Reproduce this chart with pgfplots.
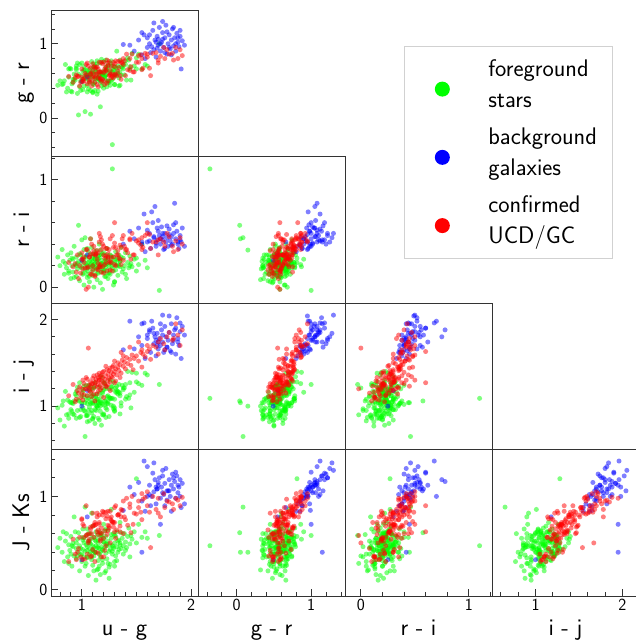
\documentclass[border=0pt]{standalone}
\usepackage{pgfplots}
\usepackage{pgfplotstable}
\pgfplotsset{compat=1.18}
\renewcommand{\familydefault}{\sfdefault}
\definecolor{cgreen}{RGB}{0,255,0}
\definecolor{cblue}{RGB}{0,0,255}
\definecolor{cred}{RGB}{255,0,0}

\pgfplotstableread{
ug gr ri ij jk
0.78 0.44 0.28 0.98 0.45
0.80 0.50 0.20 0.84 0.55
0.82 0.45 0.35 1.01 0.40
0.84 0.50 0.12 0.77 0.30
0.85 0.72 0.22 1.17 0.52
0.86 0.35 0.18 0.90 0.60
0.87 0.40 0.30 1.07 0.35
0.88 0.55 0.15 0.86 0.48
0.89 0.67 0.25 1.05 0.42
0.90 0.36 0.08 1.04 0.38
0.90 0.66 0.32 0.96 0.57
0.91 0.46 0.20 1.04 0.25
0.92 0.52 0.26 0.91 0.46
0.92 0.48 0.14 1.03 0.50
0.93 0.52 0.38 1.06 0.36
0.94 0.51 0.21 1.14 0.62
0.95 0.65 0.10 0.86 0.44
0.95 0.67 0.28 1.12 0.33
0.96 0.33 0.17 0.95 0.54
0.97 0.04 0.575 1.06 0.61
0.97 0.59 0.24 1.07 0.40
0.98 0.42 0.06 0.87 0.20
0.98 0.72 0.31 1.27 0.47
0.99 0.37 0.19 0.88 0.37
1.00 0.49 0.23 1.12 0.30
1.00 0.74 0.44 1.04 0.56
1.01 0.38 0.12 0.98 0.43
1.01 0.63 0.27 1.19 0.65
1.02 0.64 0.02 0.95 0.35
1.02 0.69 0.35 1.23 0.50
1.03 0.085 0.46 0.65 0.885
1.03 0.53 0.16 1.04 0.41
1.04 0.58 0.22 1.07 0.28
1.04 0.55 0.29 1.24 0.58
1.05 0.60 0.09 0.89 0.46
1.05 0.35 0.20 0.90 0.34
1.06 0.52 0.33 1.23 0.52
1.06 0.61 0.18 0.95 0.15
1.07 0.58 0.25 1.19 0.44
1.07 0.49 0.05 0.83 0.38
1.08 0.05 0.45 1.04 0.40
1.08 0.58 0.21 1.03 0.60
1.08 0.37 0.30 1.08 0.49
1.09 0.62 0.14 0.95 0.32
1.09 0.76 0.37 1.20 0.55
1.10 0.34 0.24 1.04 0.42
1.10 0.67 0.11 1.03 0.26
1.10 0.60 0.28 1.12 0.68
1.11 0.45 0.19 0.88 0.45
1.11 0.68 0.00 1.21 0.36
1.12 0.37 0.26 0.96 0.53
1.12 0.70 0.22 1.27 0.40
1.13 0.66 0.16 0.95 0.10
1.13 0.56 0.34 1.11 0.47
1.14 0.32 0.07 1.00 0.21
1.14 0.77 0.23 1.08 0.58
1.15 0.54 0.29 1.05 0.31
1.15 0.54 0.13 0.98 0.22
1.16 0.58 0.20 1.15 0.44
1.16 0.52 0.40 1.02 0.62
1.17 0.15 0.345 1.00 0.40
1.17 0.74 0.18 1.04 0.35
1.18 0.43 0.25 1.04 0.55
1.18 0.79 0.30 1.34 0.46
1.19 0.58 -0.02 0.90 0.28
1.19 0.57 0.21 1.15 0.42
1.20 0.45 0.15 0.91 0.70
1.20 0.76 0.32 1.28 0.51
1.21 0.52 0.24 1.01 0.18
1.21 0.55 0.10 1.26 0.45
1.22 0.65 0.27 0.98 0.20
1.22 0.68 0.19 1.23 0.57
1.23 0.42 0.22 1.11 0.49
1.23 0.69 0.36 1.03 0.33
1.24 0.48 0.08 1.12 0.52
1.24 0.71 0.26 1.03 0.64
1.25 0.64 0.17 1.20 0.41
1.26 0.61 0.30 1.09 0.48
1.26 0.44 0.12 1.09 0.27
1.27 0.77 0.23 1.09 0.55
1.28 -0.36 1.10 1.09 0.47
1.28 0.52 0.20 1.23 0.38
1.29 0.64 0.28 1.00 0.60
1.29 0.70 0.15 1.28 0.44
1.30 0.56 0.25 0.98 0.50
1.30 0.58 0.05 1.08 0.25
1.31 0.58 0.33 1.16 0.57
1.32 0.61 0.21 1.23 0.46
1.32 0.90 0.26 1.16 0.62
1.33 0.60 0.11 1.17 0.40
1.34 0.43 0.30 1.16 0.53
1.35 0.78 0.19 1.12 0.48
1.35 0.62 0.24 1.15 0.72
1.36 0.58 0.37 1.04 0.44
1.37 0.68 0.14 1.24 0.55
1.38 0.71 0.27 1.19 0.38
1.39 0.58 0.20 1.21 0.60
1.40 0.77 0.32 1.08 0.51
1.41 0.51 0.08 1.11 0.45
1.42 0.81 0.23 1.40 0.57
1.43 0.78 0.18 1.09 0.66
1.44 0.69 0.29 1.27 0.49
1.45 0.51 0.22 0.98 0.58
1.46 0.87 0.19 1.39 0.54
1.48 0.70 0.26 1.16 0.62
1.50 0.66 0.15 1.38 0.50
1.52 0.86 0.21 1.26 0.70
1.55 0.66 0.40 1.24 0.56
1.58 0.72 0.25 1.38 0.62
1.50 0.81 0.27 1.28 1.19
1.60 0.70 0.18 1.36 0.55
1.71 1.00 -0.03 1.25 0.58
0.95 0.70 0.20 1.17 0.50
1.00 0.57 0.18 1.03 0.38
1.02 0.43 0.25 1.11 0.55
1.04 0.57 0.28 0.89 0.48
1.05 0.64 0.15 1.12 0.42
1.06 0.39 0.23 1.09 0.60
1.07 0.65 0.19 0.99 0.52
1.09 0.56 0.26 1.14 0.35
1.10 0.46 0.17 0.86 0.47
1.11 0.73 0.21 1.22 0.56
1.12 0.48 0.29 1.05 0.40
1.13 0.53 0.12 1.13 0.62
1.14 0.73 0.24 1.00 0.45
1.15 0.53 0.19 1.08 0.53
1.16 0.51 0.27 1.22 0.38
1.17 0.58 0.14 0.94 0.16
1.18 0.61 0.22 1.11 0.58
1.19 0.59 0.31 1.02 0.43
1.20 0.63 0.20 1.19 0.51
1.21 0.56 0.16 1.06 0.63
1.22 0.58 0.25 1.20 0.39
1.23 0.64 0.30 0.96 0.47
1.25 0.50 0.13 1.10 0.24
1.26 0.74 0.22 1.30 0.43
1.27 0.70 0.27 1.01 0.86
1.28 0.62 0.18 1.19 0.41
1.30 0.45 0.23 0.94 0.58
1.31 0.68 0.16 1.21 0.36
1.33 0.70 0.26 1.14 0.52
1.34 0.54 0.20 1.25 0.43
1.36 0.69 0.28 1.00 0.61
1.38 0.66 0.17 1.21 0.47
0.83 0.46 0.24 1.06 0.62
0.88 0.66 0.13 0.91 0.28
0.91 0.35 0.27 0.94 0.47
0.93 0.59 0.09 0.90 0.78
0.96 0.74 0.22 1.22 0.36
0.99 0.50 0.30 0.96 0.44
1.01 0.52 0.13 1.17 0.53
1.03 0.65 0.20 0.94 0.25
1.05 0.57 0.36 1.03 0.65
1.07 0.55 0.10 1.24 0.50
1.09 0.60 0.22 0.92 0.82
1.11 0.53 0.31 1.10 0.20
1.13 0.62 0.18 1.01 0.52
1.15 0.53 0.26 1.04 0.45
1.17 0.48 0.04 1.06 0.59
1.19 0.59 0.17 1.17 0.32
1.22 0.78 0.21 1.06 0.49
1.24 0.50 0.13 1.05 0.28
1.27 0.50 0.29 1.22 0.59
1.29 0.65 0.02 0.97 0.46
1.32 0.67 0.20 1.18 0.31
1.35 0.44 0.24 0.91 0.50
1.40 0.72 0.12 1.25 0.42
1.44 0.66 0.20 1.13 0.35
1.10 0.35 0.20 0.85 0.42
1.20 0.40 0.14 0.90 0.55
1.12 0.62 0.26 0.80 0.40
1.18 0.50 0.22 0.78 0.60
1.05 0.44 0.12 0.82 0.35
1.25 0.48 0.21 0.88 0.12
1.30 0.45 0.05 0.95 0.30
1.15 0.36 0.18 0.86 0.50
1.22 0.58 0.10 0.87 0.65
1.16 0.62 0.30 0.84 0.25
}\stars

\pgfplotstableread{
ug gr ri ij jk
1.44 0.98 0.52 1.98 1.10
1.48 0.90 0.45 1.66 1.02
1.52 1.05 0.55 1.80 1.15
1.55 0.85 0.40 1.70 0.95
1.57 1.12 0.68 1.96 1.38
1.60 0.95 0.42 1.78 1.00
1.62 1.00 0.50 1.86 1.12
1.63 0.88 0.36 1.62 0.90
1.65 1.18 0.60 1.90 1.25
1.66 0.92 0.47 1.72 1.05
1.67 1.05 0.75 1.80 1.18
1.68 0.82 0.38 1.58 0.92
1.69 1.10 0.44 1.84 1.08
1.70 0.98 0.52 1.66 1.15
1.71 1.22 0.48 1.78 1.20
1.72 0.90 0.40 1.70 0.98
1.73 1.02 0.56 1.88 1.10
1.74 1.15 0.44 1.74 1.22
1.75 0.95 0.35 1.62 1.02
1.76 1.08 0.50 1.92 1.14
1.77 1.25 0.42 1.80 1.30
1.78 0.86 0.46 1.68 0.96
1.79 1.00 0.38 1.76 1.06
1.80 1.12 0.54 1.85 1.18
1.81 0.93 0.43 1.64 1.00
1.82 1.05 0.47 1.95 1.12
1.83 1.20 0.40 1.72 1.24
1.84 0.97 0.58 1.82 1.08
1.85 1.08 0.78 1.88 1.16
1.86 0.90 0.45 1.60 0.98
1.87 1.14 0.52 2.02 1.22
1.88 1.02 0.40 1.78 1.04
1.89 0.96 0.36 1.70 1.10
1.90 1.10 0.48 1.86 1.00
1.91 0.66 0.42 1.55 0.88
1.92 1.04 0.55 1.92 1.14
1.94 0.98 0.38 1.82 0.92
1.66 1.28 0.46 1.84 1.36
1.74 1.30 0.50 2.05 1.28
1.58 0.80 0.33 1.55 0.84
1.70 1.06 0.62 1.74 1.12
1.78 1.16 0.57 1.68 1.06
1.62 1.12 0.43 1.88 1.02
1.84 1.22 0.50 1.76 1.20
1.55 1.15 0.42 1.95 0.40
1.00 0.49 0.25 1.00 0.32
1.05 0.55 0.30 1.18 0.78
1.38 0.99 0.40 1.65 0.85
1.64 0.96 0.70 1.98 1.00
1.72 1.00 0.45 1.95 0.70
1.80 0.95 0.49 2.04 1.06
1.76 0.88 0.36 1.65 0.90
1.68 1.02 0.41 1.76 1.10
1.86 1.00 0.60 1.90 1.26
1.60 1.08 0.53 1.82 1.32
1.90 1.18 0.44 1.96 1.18
1.82 0.85 0.39 1.62 0.84
1.74 1.06 0.47 1.82 1.04
1.69 0.94 0.55 1.70 1.08
1.88 1.08 0.42 1.74 1.12
}\gals

\pgfplotstableread{
ug gr ri ij jk
0.88 0.56 0.23 1.12 0.30
0.92 0.48 0.19 1.25 0.54
0.95 0.58 0.14 1.08 0.32
0.96 0.56 0.30 1.18 0.40
0.98 0.43 0.20 1.22 0.56
0.99 0.48 0.13 1.10 0.35
1.00 0.66 0.26 1.15 0.76
1.01 0.52 0.26 1.30 0.70
1.02 0.50 0.23 1.13 0.56
1.03 0.60 0.18 1.20 0.33
1.04 0.72 0.35 1.33 0.90
1.05 0.46 0.18 1.12 0.38
1.06 0.70 0.19 1.24 0.52
1.06 0.55 0.00 1.67 0.50
1.07 0.48 0.28 1.21 0.60
1.08 0.67 0.31 1.28 0.67
1.08 0.59 0.12 1.16 0.35
1.09 0.49 0.40 1.26 0.60
1.10 0.55 0.16 1.19 0.68
1.10 0.73 0.31 1.32 0.43
1.11 0.56 0.34 1.14 0.56
1.12 0.54 0.11 1.23 0.72
1.12 0.67 0.30 1.27 0.69
1.13 0.59 0.30 1.31 0.40
1.14 0.45 0.34 1.22 0.82
1.14 0.69 0.26 1.36 0.62
1.15 0.66 0.22 1.25 0.39
1.15 0.42 0.16 1.17 0.64
1.16 0.62 0.42 1.30 0.72
1.16 0.75 0.19 1.38 0.80
1.17 0.62 0.21 1.24 0.52
1.17 0.53 0.47 1.34 0.61
1.18 0.75 0.14 1.29 0.66
1.18 0.49 0.35 1.21 0.35
1.19 0.52 0.19 1.33 0.84
1.20 0.61 0.38 1.27 0.55
1.20 0.75 0.30 1.40 0.83
1.21 0.45 0.21 1.26 0.42
1.22 0.63 0.29 1.35 0.76
1.22 0.64 0.23 1.23 0.47
1.23 0.78 0.36 1.42 0.79
1.24 0.50 0.31 1.30 0.69
1.24 0.74 0.27 1.37 0.63
1.25 0.57 0.23 1.32 0.68
1.26 0.59 0.45 1.44 0.84
1.26 0.58 0.16 1.28 0.50
1.27 0.70 0.28 1.39 0.78
1.28 0.56 0.48 1.45 0.73
1.28 0.59 0.15 1.33 0.72
1.29 0.75 0.37 1.47 0.67
1.30 0.69 0.21 1.40 0.72
1.30 0.58 0.60 1.27 0.62
1.31 0.77 0.37 1.43 0.90
1.32 0.57 0.30 1.36 0.64
1.33 0.63 0.30 1.50 0.80
1.34 0.68 0.27 1.41 0.81
1.35 0.77 0.39 1.48 0.68
1.36 0.52 0.21 1.38 0.78
1.37 0.74 0.45 1.53 0.85
1.38 0.72 0.25 1.46 0.60
1.39 0.77 0.38 1.51 0.78
1.40 0.57 0.35 1.43 0.75
1.41 0.86 0.35 1.56 0.98
1.42 0.65 0.32 1.49 0.69
1.44 0.64 0.44 1.54 0.88
1.45 0.69 0.26 1.47 0.61
1.46 0.86 0.50 1.59 1.00
1.48 0.62 0.30 1.55 0.82
1.50 0.75 0.43 1.58 0.81
1.52 0.75 0.41 1.52 0.88
1.54 0.85 0.39 1.62 0.83
1.56 0.67 0.37 1.60 0.97
1.58 0.87 0.48 1.57 0.99
1.60 0.82 0.60 1.63 0.90
1.62 0.67 0.49 1.66 0.83
1.65 0.87 0.42 1.70 1.00
1.68 0.88 0.42 1.68 0.86
1.70 0.78 0.44 1.74 0.98
1.72 0.83 0.45 1.78 0.78
1.75 0.95 0.42 1.72 1.03
1.78 0.92 0.50 1.80 0.95
1.80 0.86 0.47 1.85 0.94
1.83 0.87 0.38 1.76 0.92
1.86 0.95 0.43 1.95 0.98
1.88 0.80 0.35 1.82 0.96
1.90 0.92 0.46 1.70 0.90
1.92 0.84 0.40 1.88 0.99
1.55 0.65 0.35 1.45 0.75
1.47 0.62 0.30 1.42 0.70
1.35 0.57 0.26 1.33 0.62
1.02 0.53 0.28 1.26 0.68
1.05 0.74 0.35 1.31 0.59
1.07 0.51 0.28 1.18 0.54
1.09 0.43 0.12 1.11 0.36
1.11 0.69 0.38 1.35 0.69
1.13 0.68 0.31 1.28 0.70
1.15 0.54 0.32 1.33 0.59
1.17 0.52 0.19 1.19 0.54
1.19 0.73 0.40 1.39 0.80
1.21 0.66 0.27 1.31 0.63
1.23 0.47 0.15 1.22 0.59
1.25 0.76 0.35 1.41 0.66
1.27 0.54 0.23 1.34 0.74
1.29 0.54 0.28 1.37 0.72
1.31 0.59 0.20 1.29 0.55
1.33 0.76 0.34 1.45 0.80
1.04 0.58 -0.02 1.20 0.58
0.97 0.56 0.08 1.15 0.44
1.12 0.48 0.10 1.06 0.30
1.20 0.50 0.13 1.10 0.35
1.08 0.60 0.45 1.23 0.65
1.16 0.56 0.50 1.30 0.70
1.00 0.55 0.32 1.20 0.75
1.10 0.62 0.20 1.26 0.82
1.24 0.70 0.28 1.25 0.84
1.14 0.60 0.17 1.14 0.78
1.26 0.64 0.24 1.18 0.76
0.94 0.54 0.22 1.05 0.38
1.01 0.49 0.17 1.07 0.32
1.18 0.62 0.44 1.36 0.60
1.36 0.75 0.37 1.62 0.86
1.44 0.80 0.45 1.68 0.92
1.52 0.84 0.44 1.74 0.95
1.63 0.57 0.36 1.54 0.45
1.70 0.74 0.30 1.60 0.82
1.76 0.80 0.38 1.65 0.88
1.84 0.78 0.33 1.78 0.86
1.38 0.80 0.48 1.58 0.95
1.30 0.73 0.41 1.52 0.88
1.22 0.69 0.36 1.46 0.83
1.55 0.80 0.46 1.65 1.03
1.60 0.86 0.50 1.70 1.05
}\ucds

\pgfplotsset{
  starsty/.style={forget plot, only marks, mark=*, mark size=2.5pt, mark options={draw opacity=0, fill=cgreen, fill opacity=0.5}},
  galsty/.style={forget plot, only marks, mark=*, mark size=2.5pt, mark options={draw opacity=0, fill=cblue, fill opacity=0.5}},
  ucdsty/.style={forget plot, only marks, mark=*, mark size=2.5pt, mark options={draw opacity=0, fill=cred, fill opacity=0.5}},
  panel/.style={scale only axis, width=147pt, height=146.5pt, anchor=south west,
    axis line style={black!80, line width=0.8pt},
    tick style={black!80, line width=0.8pt},
    tick align=inside, major tick length=7pt, minor tick length=4pt,
    xtick=\empty, ytick=\empty, xtick pos=bottom, ytick pos=left,
    ticklabel style={font=\fontsize{17}{20}\selectfont},
    /pgf/number format/assume math mode=true,
    every axis y label/.style={at={(axis description cs:-0.148,0.5)}, rotate=90, anchor=base, font=\fontsize{24}{29}\selectfont},
    every axis x label/.style={at={(axis description cs:0.5,-0.273)}, anchor=base, font=\fontsize{24}{29}\selectfont},
    clip=true},
  ugx/.style={xmin=0.718, xmax=2.064},
  grx/.style={xmin=-0.52, xmax=1.455},
  rix/.style={xmin=-0.147, xmax=1.215},
  ijx/.style={xmin=0.5, xmax=2.19},
  gry/.style={ymin=-0.52, ymax=1.455},
  riy/.style={ymin=-0.147, ymax=1.215},
  ijy/.style={ymin=0.5, ymax=2.19},
  jky/.style={ymin=-0.07, ymax=1.504},
}
\newcommand{\trio}[2]{%
  \addplot[starsty] table[x=#1,y=#2]{\stars};
  \addplot[galsty] table[x=#1,y=#2]{\gals};
  \addplot[ucdsty] table[x=#1,y=#2]{\ucds};}

\begin{document}
\begin{tikzpicture}
% ---------- row 1 ----------
\begin{axis}[panel, at={(51pt,487.5pt)}, ugx, gry,
  ytick={0,1}, minor ytick={-0.4,-0.2,0.2,0.4,0.6,0.8,1.2,1.4},
  ylabel={g - r},
  legend image code/.code={\path (0pt,0pt) (32.5pt,0pt); \fill[#1] (25pt,-5pt) circle (7.5pt);},
  legend style={at={(rel axis cs:2.401,0.754)}, anchor=north west,
    draw=black!18, line width=0.8pt, fill=white,
    inner xsep=13pt, inner ysep=11pt, row sep=15pt,
    font=\fontsize{24}{31}\selectfont,
    cells={anchor=west, align=left},
    /tikz/every odd column/.append style={column sep=36.5pt}},
  ]
\addlegendimage{fill=cgreen, draw=none}
\addlegendentry{foreground\\stars}
\addlegendimage{fill=cblue, draw=none}
\addlegendentry{background\\galaxies}
\addlegendimage{fill=cred, draw=none}
\addlegendentry{confirmed\\UCD/GC}
\trio{ug}{gr}
\end{axis}
% ---------- row 2 ----------
\begin{axis}[panel, at={(51pt,341pt)}, ugx, riy,
  ytick={0,1}, minor ytick={0.2,0.4,0.6,0.8,1.2},
  ylabel={r - i}]
\trio{ug}{ri}
\end{axis}
\begin{axis}[panel, at={(198pt,341pt)}, grx, riy]
\trio{gr}{ri}
\end{axis}
% ---------- row 3 ----------
\begin{axis}[panel, at={(51pt,194.5pt)}, ugx, ijy,
  ytick={1,2}, minor ytick={0.6,0.8,1.2,1.4,1.6,1.8},
  ylabel={i - j}]
\trio{ug}{ij}
\end{axis}
\begin{axis}[panel, at={(198pt,194.5pt)}, grx, ijy]
\trio{gr}{ij}
\end{axis}
\begin{axis}[panel, at={(345pt,194.5pt)}, rix, ijy]
\trio{ri}{ij}
\end{axis}
% ---------- row 4 ----------
\begin{axis}[panel, at={(51pt,48pt)}, ugx, jky,
  ytick={0,1}, minor ytick={0.2,0.4,0.6,0.8,1.2,1.4},
  xtick={1,2}, minor xtick={0.8,0.9,1.1,1.2,1.3,1.4,1.5,1.6,1.7,1.8,1.9},
  ylabel={J - Ks}, xlabel={u - g}]
\trio{ug}{jk}
\end{axis}
\begin{axis}[panel, at={(198pt,48pt)}, grx, jky,
  xtick={0,1}, minor xtick={-0.4,-0.2,0.2,0.4,0.6,0.8,1.2,1.4},
  xlabel={g - r}]
\trio{gr}{jk}
\end{axis}
\begin{axis}[panel, at={(345pt,48pt)}, rix, jky,
  xtick={0,1}, minor xtick={0.2,0.4,0.6,0.8,1.2},
  xlabel={r - i}]
\trio{ri}{jk}
\end{axis}
\begin{axis}[panel, at={(492pt,48pt)}, ijx, jky,
  xtick={1,2}, minor xtick={0.6,0.8,1.2,1.4,1.6,1.8},
  xlabel={i - j}]
\trio{ij}{jk}
\end{axis}
\pgfresetboundingbox
\useasboundingbox (0pt,0pt) rectangle (635pt,644pt);
\end{tikzpicture}
\end{document}
